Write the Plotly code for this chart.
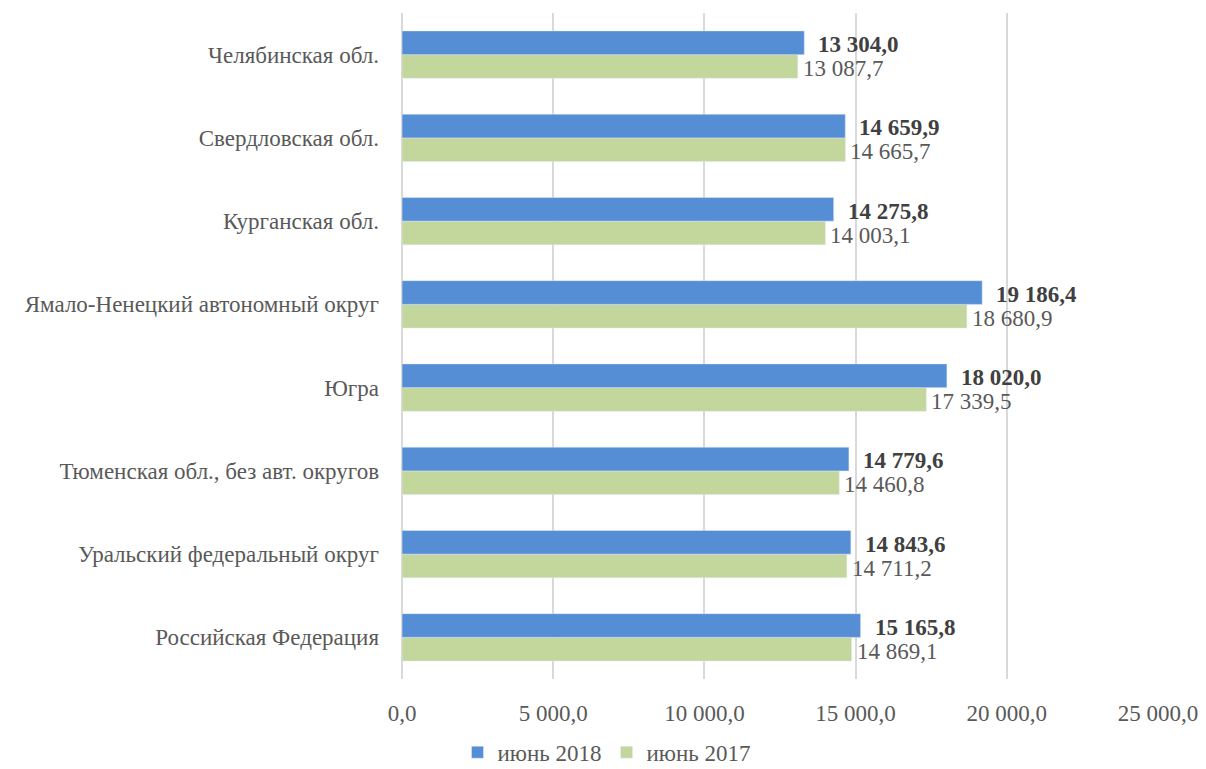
import plotly.graph_objects as go

categories = [
    "Российская Федерация",
    "Уральский федеральный округ",
    "Тюменская обл., без авт. округов",
    "Югра",
    "Ямало-Ненецкий автономный округ",
    "Курганская обл.",
    "Свердловская обл.",
    "Челябинская обл.",
]
jun2018 = [15165.8, 14843.6, 14779.6, 18020.0, 19186.4, 14275.8, 14659.9, 13304.0]
jun2017 = [14869.1, 14711.2, 14460.8, 17339.5, 18680.9, 14003.1, 14665.7, 13087.7]
tick_vals = [0, 5000, 10000, 15000, 20000, 25000]

def fmt(v):
    s = f"{v:,.1f}"
    return s.replace(",", " ").replace(".", ",")

FONT = "Liberation Serif"
GREY = "#595959"
BLUE = "#558ED5"
GREEN = "#C3D69B"

fig = go.Figure()
fig.add_trace(go.Bar(y=categories, x=jun2017, orientation="h", name="июнь 2017",
                     marker=dict(color=GREEN), hoverinfo="x"))
fig.add_trace(go.Bar(y=categories, x=jun2018, orientation="h", name="июнь 2018",
                     marker=dict(color=BLUE), hoverinfo="x"))

for c, v in zip(categories, jun2018):
    fig.add_annotation(x=v, y=c, text=f"<b>{fmt(v)}</b>", showarrow=False,
                       xanchor="left", yanchor="middle", xshift=12, yshift=10,
                       font=dict(family=FONT, size=23, color="#404040"))
for c, v in zip(categories, jun2017):
    fig.add_annotation(x=v, y=c, text=fmt(v), showarrow=False,
                       xanchor="left", yanchor="middle", xshift=3, yshift=-14,
                       font=dict(family=FONT, size=23, color=GREY))

fig.update_layout(
    width=1198, height=761,
    margin=dict(l=394, r=48, t=5, b=90),
    paper_bgcolor="white", plot_bgcolor="white",
    barmode="group", bargap=0.43, bargroupgap=0,
    font=dict(family=FONT, size=23, color=GREY),
    showlegend=True,
    legend=dict(orientation="h", x=0.5, xref="container", xanchor="center",
                y=0.022, yref="container", yanchor="middle", traceorder="reversed",
                font=dict(family=FONT, size=23, color=GREY)),
    xaxis=dict(range=[0, 25000], tickvals=tick_vals,
               ticktext=[fmt(v) for v in tick_vals],
               showgrid=True, gridcolor="#D9D9D9", gridwidth=1.5,
               zeroline=True, zerolinecolor="#D9D9D9", zerolinewidth=1.5,
               showline=False, ticks="", ticklabelstandoff=18,
               tickfont=dict(family=FONT, size=23, color=GREY)),
    yaxis=dict(showgrid=False, showline=False, ticks="", ticklabelstandoff=22,
               tickfont=dict(family=FONT, size=23, color=GREY)),
)

fig.write_html("out.html", config={"displayModeBar": False})
